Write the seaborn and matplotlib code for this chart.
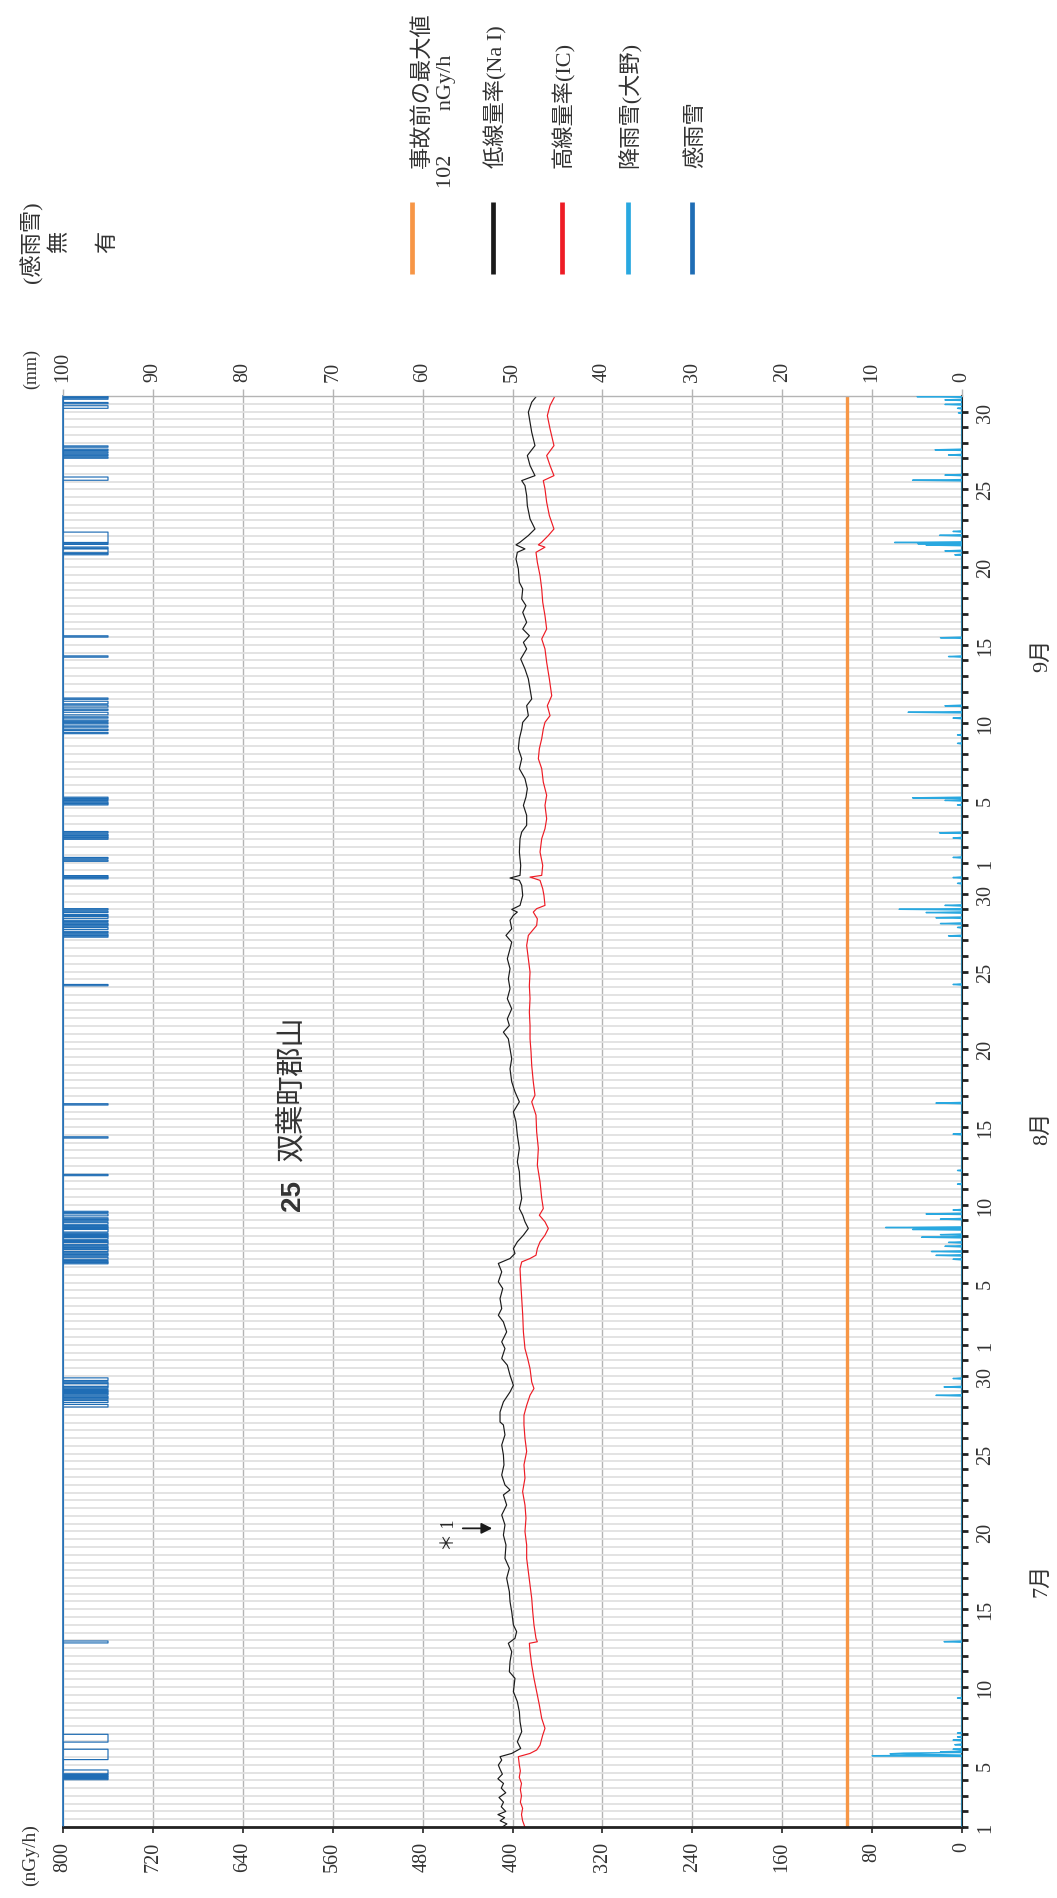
import numpy as np
import matplotlib
matplotlib.use("Agg")
import matplotlib.pyplot as plt
from matplotlib.lines import Line2D
from matplotlib.ticker import MultipleLocator
import seaborn as sns

# ── data (days counted from 1 July 00:00) ─────────────────────────────
nai_day = [0.0, 0.2, 0.4, 0.6, 0.8, 1.0, 1.3, 1.6, 1.9, 2.2, 2.5, 2.8, 3.1, 3.4, 3.7,
           3.98, 4.30, 4.52, 4.73, 5.05, 5.48, 6.13, 6.77, 7.41, 8.06, 8.70, 9.56, 9.98,
           10.63, 11.27, 11.81, 12.13, 12.56, 12.99, 13.84, 14.49, 15.13, 15.99, 16.63,
           17.27, 18.13, 18.77, 19.42, 20.06, 20.70, 21.35, 21.67, 21.99, 22.63, 23.28,
           23.92, 24.56, 25.21, 25.85,
           26.04, 26.68, 27.33, 27.97, 28.40, 29.04, 29.69, 30.12, 30.76, 31.19, 31.83,
           32.47, 32.90, 33.33, 33.97, 34.62, 35.05, 35.69, 36.23, 36.55, 36.87, 37.19,
           37.62, 38.05, 38.48, 38.91, 39.33, 39.76, 40.41, 41.26, 42.12, 42.76, 43.62,
           44.48, 45.34, 45.98, 46.62, 47.27, 47.91,
           48.74, 49.39, 50.03, 50.67, 51.10, 51.53, 51.96, 52.60, 53.25, 53.89, 54.53,
           55.18, 55.82, 56.46, 56.89, 57.32, 57.75, 58.29, 58.61, 58.82, 58.99, 59.25,
           59.89, 60.54, 60.86, 61.01, 61.18, 61.82, 62.68, 63.54, 63.97, 64.40, 65.04,
           65.68, 66.22, 66.75, 67.40, 68.04, 68.68, 69.33, 69.97,
           70.59, 71.02, 71.45, 72.09, 72.52, 73.16, 73.81, 74.45, 75.09, 75.74, 76.16,
           76.59, 77.02, 77.45, 78.09, 78.52, 78.95, 79.60, 80.02, 80.88, 81.52, 81.95,
           82.17, 82.43, 82.60, 83.03, 83.45, 84.10, 84.95, 85.60, 86.24, 86.56, 86.88,
           87.53, 88.17, 88.81, 89.67, 90.31, 90.96, 91.60, 92.0]
nai_val = [409, 405, 411, 407, 413, 406, 410, 408, 412, 406, 410, 408, 413, 409, 411,
           412.6, 409.6, 411.1, 400.7, 392.7, 395.7, 391.8, 393.3, 393.9, 395.7, 399.2,
           397.8, 402.8, 402.2, 400.7, 403.7, 397.8, 396.3, 399.2, 400.7, 402.2, 402.8,
           405.2, 402.8, 406.7, 405.8, 408.1, 406.7, 409.6, 405.2, 408.1, 402.2, 406.7,
           409.6, 407.6, 408.1, 409.6, 406.7, 408.1,
           411.1, 411.1, 408.1, 402.2, 399.2, 402.2, 404.6, 409.6, 406.7, 409.6, 405.2,
           408.1, 412.6, 409.6, 411.1, 408.7, 412.6, 409.6, 412.6, 402.2, 397.8, 399.2,
           395.7, 390.3, 385.9, 388.9, 390.9, 393.9, 391.8, 393.3, 393.9, 395.7, 393.9,
           395.7, 396.9, 399.2, 393.9, 397.8, 400.7,
           402.2, 400.7, 402.2, 403.7, 408.1, 402.8, 404.6, 400.7, 404.6, 402.2, 403.7,
           402.2, 404.6, 402.2, 400.7, 405.8, 400.7, 402.2, 399.2, 395.7, 400.7, 393.3,
           390.9, 391.8, 393.9, 402.2, 393.3, 392.7, 393.9, 393.3, 391.8, 387.4, 387.4,
           390.3, 388.0, 386.8, 388.9, 393.9, 391.8, 394.8, 393.9,
           391.8, 390.9, 385.9, 387.4, 382.9, 384.4, 385.9, 388.9, 392.7, 387.4, 390.3,
           385.0, 390.9, 387.4, 390.9, 388.0, 391.8, 390.9, 393.9, 394.8, 396.9, 395.7,
           388.9, 396.9, 393.3, 385.9, 380.0, 384.4, 386.8, 387.4, 388.9, 391.8, 380.0,
           384.4, 386.8, 380.0, 382.9, 384.4, 385.9, 382.9, 378.5]

ic_day = [0.0, 0.4, 0.8, 1.2, 1.6, 2.0, 2.4, 2.8, 3.2, 3.6,
          3.98, 4.52, 4.73, 4.95, 5.27, 5.91, 6.34, 6.98, 7.84, 8.70, 9.56, 10.41,
          11.27, 11.81, 11.91, 12.13, 12.99, 13.84, 14.70, 15.56, 16.42, 17.27, 18.13,
          18.99, 19.85, 20.70, 21.56, 22.42, 23.28, 24.14, 24.99, 25.85,
          26.47, 27.11, 27.76, 28.19, 28.61, 29.47, 30.12, 30.76, 31.83, 32.90, 33.97,
          35.05, 35.90, 36.33, 36.55, 36.76, 37.19, 37.62, 38.05, 38.48, 38.91, 39.33,
          39.76, 40.41, 41.48, 42.55, 43.62, 44.69, 45.77, 46.62, 47.05, 47.91,
          48.96, 49.82, 50.67, 51.53, 52.39, 53.25, 54.10, 54.96, 55.82, 56.68, 57.32,
          57.96, 58.39, 58.82, 59.04, 59.25, 59.89, 60.32, 60.86, 61.07, 61.18, 61.82,
          62.68, 63.54, 64.18, 64.82, 65.68, 66.33, 67.18, 68.04, 68.68, 69.33, 69.97,
          70.59, 71.02, 71.45, 72.09, 72.73, 73.81, 74.88, 75.74, 76.38, 77.02, 77.88,
          78.74, 79.60, 80.45, 81.31, 81.95, 82.28, 82.43, 82.60, 83.03, 83.45, 84.31,
          85.17, 86.03, 86.56, 86.88, 87.53, 88.17, 88.81, 89.89, 90.74, 91.39, 92.0]
ic_val = [389, 391, 392, 391, 393, 392, 393, 392, 394, 393,
          393.9, 394.8, 384.4, 378.5, 375.5, 373.1, 371.1, 374.0, 376.1, 378.5, 380.9,
          382.9, 384.4, 385.0, 377.9, 379.1, 380.9, 382.0, 382.9, 384.4, 385.9, 387.4,
          387.4, 388.9, 388.0, 388.9, 391.0, 388.9, 389.8, 387.4, 388.9, 389.8,
          389.8, 387.4, 384.4, 380.9, 382.9, 384.4, 386.5, 388.9, 390.3, 390.9, 391.8,
          392.7, 393.3, 391.8, 384.4, 379.1, 377.9, 375.5, 371.1, 368.1, 371.1, 376.1,
          372.6, 374.0, 375.5, 377.9, 377.0, 378.5, 379.1, 382.9, 380.0, 381.5,
          382.9, 383.5, 384.4, 384.4, 385.0, 384.4, 385.0, 384.4, 385.9, 387.4, 385.9,
          378.5, 377.9, 381.5, 378.5, 371.1, 372.0, 373.1, 375.5, 384.4, 374.0, 373.1,
          375.5, 374.0, 371.1, 369.6, 371.1, 369.6, 372.6, 374.0, 377.0, 376.1, 374.0,
          372.6, 371.1, 366.6, 369.0, 365.1, 367.2, 369.6, 371.1, 374.0, 369.6, 371.1,
          373.1, 374.0, 375.5, 377.9, 379.1, 371.1, 377.0, 374.0, 368.1, 363.1, 367.2,
          369.6, 371.1, 372.6, 363.1, 366.6, 369.6, 363.1, 366.6, 369.0, 366.6, 362.2]

pre_accident_max = 102  # nGy/h

# hourly rain at Ono (mm)
rain_day = [4.6, 4.65, 4.7, 4.75, 4.85, 5.0, 5.3, 5.6, 5.8, 6.05, 8.3, 11.9,
            27.75, 28.3, 28.85,
            36.5, 36.75, 37.0, 37.35, 37.6, 37.9, 38.1, 38.4, 38.55, 39.1, 39.4, 39.65,
            41.35, 42.2, 44.55, 46.55, 54.15, 57.3, 57.85, 58.1, 58.45, 58.8, 59.0,
            59.25, 60.65, 61.05,
            62.35, 63.6, 63.9, 65.7, 66.0, 66.15, 69.65, 70.2, 71.3, 71.65, 72.1, 75.25,
            76.45, 81.8, 82.05, 82.4, 82.5, 82.6, 83.05, 83.3, 86.6, 86.9, 88.2, 88.55,
            90.9, 91.2, 91.45, 91.75, 91.95]
rain_mm = [10.0, 3.9, 8.0, 6.5, 2.4, 1.0, 0.8, 1.0, 0.5, 0.5, 0.5, 2.0,
           2.9, 2.0, 1.0,
           1.0, 2.9, 3.4, 1.9, 1.5, 4.5, 2.4, 5.5, 8.5, 2.4, 4.0, 1.0,
           0.5, 0.5, 1.0, 2.9, 1.0, 1.5, 0.5, 2.4, 2.9, 4.0, 7.0,
           1.9, 0.5, 1.0,
           1.0, 1.0, 2.5, 0.5, 1.9, 5.5, 0.5, 0.5, 1.0, 6.0, 1.9, 1.5,
           2.4, 0.8, 1.9, 4.0, 4.9, 7.5, 2.5, 1.0, 5.5, 1.9, 1.5, 3.0,
           0.4, 0.5, 1.9, 1.9, 5.0]

# rain sensor "on" periods (start, end)
sense_start = [3.05, 3.15, 3.28, 3.40, 3.50, 3.57, 4.34, 5.46, 5.55, 5.62, 5.70, 5.80, 5.88,
               11.82, 27.00, 27.10, 27.30, 27.50, 27.62, 27.80, 27.92, 28.05, 28.20, 28.35,
               28.55, 28.70, 28.80,
               36.20, 36.35, 36.50, 36.70, 36.85, 37.00, 37.15, 37.30, 37.45, 37.62, 37.80,
               37.95, 38.10, 38.25, 38.45, 38.60, 38.75, 38.95, 39.10, 39.30, 39.50,
               41.88, 44.30, 46.40, 54.10,
               57.20, 57.35, 57.50, 57.70, 57.90, 58.05, 58.20, 58.40, 58.60, 58.78, 58.95,
               60.95, 61.10,
               62.10, 62.25, 63.50, 63.62, 63.75, 63.90, 65.70, 65.85, 66.00, 66.12,
               70.30, 70.50, 70.70, 70.90, 71.10, 71.30, 71.50, 71.60, 71.80, 72.00, 72.20,
               72.30, 72.50, 75.20, 76.50,
               81.80, 81.90, 82.00, 82.10, 82.20, 82.45, 82.60, 86.60,
               88.00, 88.15, 88.35, 88.50, 88.70, 91.20, 91.30, 91.50, 91.80, 91.90]
sense_end = [3.09, 3.19, 3.32, 3.44, 3.54, 3.61, 4.96, 5.50, 5.59, 5.66, 5.74, 5.84, 5.92,
             11.90, 27.04, 27.14, 27.38, 27.54, 27.66, 27.84, 27.96, 28.09, 28.24, 28.45,
             28.59, 28.74, 28.84,
             36.24, 36.39, 36.58, 36.74, 36.89, 37.08, 37.19, 37.34, 37.53, 37.66, 37.88,
             37.99, 38.14, 38.37, 38.49, 38.64, 38.83, 38.99, 39.14, 39.38, 39.54,
             41.92, 44.34, 46.44, 54.14,
             57.24, 57.39, 57.54, 57.78, 57.94, 58.09, 58.24, 58.48, 58.64, 58.82, 58.99,
             61.00, 61.14,
             62.14, 62.29, 63.54, 63.66, 63.79, 63.94, 65.74, 65.89, 66.04, 66.16,
             70.34, 70.54, 70.74, 70.94, 71.14, 71.34, 71.54, 71.64, 71.84, 72.08, 72.24,
             72.34, 72.54, 75.24, 76.54,
             81.84, 81.94, 82.04, 82.14, 82.24, 82.49, 83.20, 86.75,
             88.04, 88.19, 88.39, 88.54, 88.74, 91.24, 91.34, 91.54, 91.84, 91.94]

month_names = ["7月", "8月", "9月"]
month_pos = [15.9, 45.0, 75.4]

# ── hourly series for rain and sensor ────────────────────────────────
hours = np.arange(0, 92 * 24 + 1) / 24
rain = np.zeros(len(hours))
rain[np.round(np.array(rain_day) * 24).astype(int)] = rain_mm
sense = np.zeros(len(hours))
for s, e in zip(sense_start, sense_end):
    h0 = int(round(s * 24))
    h1 = max(int(round(e * 24)), h0)
    sense[h0:h1 + 1] = 1

# ── figure ───────────────────────────────────────────────────────────
sns.set_style("white")
plt.rcParams["font.family"] = ["Liberation Serif", "Noto Sans CJK JP"]

W, H = 1057, 1899
L, R, T, B = 63, 962, 397, 1828
fig = plt.figure(figsize=(W / 100, H / 100), dpi=100)
ax = fig.add_axes([L / W, 1 - B / H, (R - L) / W, (B - T) / H])


def fx(x):
    return x / W


def fy(y):
    return 1 - y / H


C_ORANGE, C_BLACK, C_RED = "#f79646", "#1a1a1a", "#ee1c25"
C_RAIN, C_SENSE = "#29a8e0", "#1f6db5"
TICK_FS = 14.5

ax.set_xlim(800, 0)
ax.set_ylim(0, 92)
ax.set_axisbelow(True)
ax.set_xticks(range(0, 801, 80))
ax.xaxis.grid(True, color="#b4b4b4", lw=1.0)
ax.yaxis.set_minor_locator(MultipleLocator(0.5))
ax.yaxis.grid(True, which="both", color="#e0e0e0", lw=1.3)

days = np.arange(92)


def day_label(d):
    m = d + 1 if d < 31 else (d - 30 if d < 62 else d - 61)
    return str(m) if m in (1, 5, 10, 15, 20, 25, 30) else ""


ax.yaxis.tick_right()
ax.set_yticks(days)
ax.set_yticklabels([day_label(d) for d in days])
ax.tick_params(axis="y", which="major", length=4, width=2, color="#222222",
               pad=6, labelsize=TICK_FS, labelrotation=90, labelcolor="#333333")
ax.tick_params(axis="y", which="minor", length=0)
for lab in ax.get_yticklabels():
    lab.set_va("center")
ax.tick_params(axis="x", length=4, width=1.2, color="#222222", pad=6,
               labelsize=TICK_FS, labelrotation=90, labelcolor="#333333")

ax.spines["bottom"].set_color("#222222")
ax.spines["bottom"].set_linewidth(2)
ax.spines["right"].set_color("#222222")
ax.spines["right"].set_linewidth(1.5)
ax.spines["left"].set_color(C_SENSE)
ax.spines["left"].set_linewidth(1.2)
ax.spines["top"].set_color("#b4b4b4")
ax.spines["top"].set_linewidth(1.0)

sns.lineplot(x=nai_val, y=nai_day, sort=False, estimator=None, color=C_BLACK,
             lw=0.85, ax=ax, legend=False)
sns.lineplot(x=ic_val, y=ic_day, sort=False, estimator=None, color=C_RED,
             lw=0.85, ax=ax, legend=False)
ax.axvline(pre_accident_max, color=C_ORANGE, lw=2.4)
ax.set_xlabel("")
ax.set_ylabel("")

# rainfall axis (mm) on top
ax2 = ax.twiny()
ax2.set_xlim(100, 0)
ax2.set_xticks(range(0, 101, 10))
ax2.tick_params(axis="x", length=5, width=1, color="#b4b4b4", pad=6,
                labelsize=TICK_FS, labelrotation=90, labelcolor="#333333")
for sp in ax2.spines.values():
    sp.set_visible(False)
sns.lineplot(x=rain, y=hours, sort=False, estimator=None, color=C_RAIN,
             lw=1.0, ax=ax2, legend=False)
ax2.set_xlabel("")

# rain sensor axis (無 / 有)
ax3 = ax.twiny()
ax3.set_xlim(0, (R - L) / 45)
ax3.set_xticks([])
for sp in ax3.spines.values():
    sp.set_visible(False)
sns.lineplot(x=sense, y=hours, sort=False, estimator=None, color=C_SENSE,
             lw=0.85, drawstyle="steps-pre", ax=ax3, legend=False)
ax3.set_xlabel("")
ax3.set_ylim(0, 92)

# month labels
for name, pos in zip(month_names, month_pos):
    ax.text(1.089, pos, name, transform=ax.get_yaxis_transform(), rotation=90,
            ha="center", va="center", fontsize=16, color="#333333")

# *1 marker
ax.annotate("", xy=(415.6, 19.2), xytext=(446.7, 19.2),
            arrowprops=dict(arrowstyle="-|>", color=C_BLACK, lw=1.3, mutation_scale=16))
ax.text(456.5, 18.85, "＊ 1", rotation=90, ha="center", va="center", fontsize=13)

# legend
for x, c in [(412, C_ORANGE), (493, C_BLACK), (562, C_RED), (628, C_RAIN), (692, C_SENSE)]:
    fig.add_artist(Line2D([fx(x), fx(x)], [fy(203), fy(275)], color=c, lw=3.4,
                          solid_capstyle="butt"))
leg_kw = dict(rotation=90, ha="center", va="bottom", fontsize=16, color="#333333")
fig.text(fx(422), fy(168), "事故前の最大値", **leg_kw)
fig.text(fx(447), fy(188), "102　　nGy/h", **leg_kw)
fig.text(fx(496), fy(168), "低線量率(Na I)", **leg_kw)
fig.text(fx(563), fy(168), "高線量率(IC)", **leg_kw)
fig.text(fx(630), fy(168), "降雨雪(大野)", **leg_kw)
fig.text(fx(696), fy(168), "感雨雪", **leg_kw)

# axis captions
lab_kw = dict(rotation=90, ha="center", va="center", color="#333333")
fig.text(fx(30), fy(1855), "(nGy/h)", fontsize=14, **lab_kw)
fig.text(fx(32), fy(369), "(mm)", fontsize=13, **lab_kw)
fig.text(fx(32), fy(242), "(感雨雪)", fontsize=16, **lab_kw)
fig.text(fx(60), fy(242), "無", fontsize=16, **lab_kw)
fig.text(fx(108), fy(242), "有", fontsize=16, **lab_kw)

# title
fig.text(fx(293), fy(1196), "25", fontsize=20, fontweight="bold",
         family=["Liberation Sans"], **lab_kw)
fig.text(fx(293), fy(1088), "双葉町郡山", fontsize=21, **lab_kw)

fig.savefig("out.png", dpi=100)
